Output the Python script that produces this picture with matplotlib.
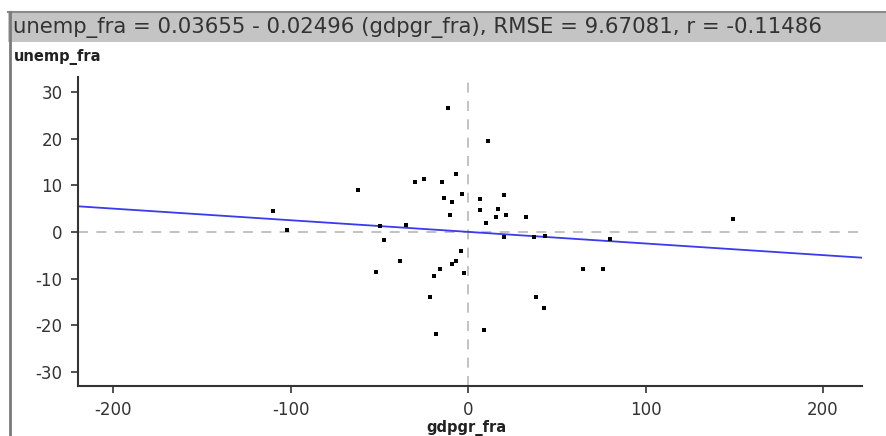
import matplotlib
matplotlib.use('Agg')
import matplotlib.pyplot as plt
from matplotlib.patches import Rectangle
from matplotlib.lines import Line2D

# data ------------------------------------------------------------------------
gdpgr_fra = [-11.3, 11.3, -6.8, -30, -25, -14.7, -62, -3.4, -13.6, -9,
             6.8, 20.4, 6.8, 17, 15.8, 21.5, 32.8, -10.2, -110, -102,
             -50, -35, 10.2, -47.5, 20.4, 37, 43.5, -3.8, -38.5, -52,
             -15.8, -19.2, -9, -6.8, -2.3, -21.5, 38, 43, -18, 9,
             64.6, 76, 80, 149.5]
unemp_fra = [26.7, 19.6, 12.5, 10.8, 11.4, 10.8, 9.0, 8.2, 7.3, 6.5,
             7.1, 8.0, 4.7, 5.0, 3.2, 3.7, 3.2, 3.7, 4.5, 0.4,
             1.3, 1.5, 1.9, -1.7, -1.1, -1.1, -0.8, -4.1, -6.3, -8.6,
             -8.0, -9.5, -6.9, -6.2, -8.8, -14.0, -14.0, -16.3, -21.9, -21.1,
             -8.0, -8.0, -1.4, 2.9]
intercept = 0.03655
slope = -0.02496
title = "unemp_fra = 0.03655 - 0.02496 (gdpgr_fra), RMSE = 9.67081, r = -0.11486"
x_ticks = [-200, -100, 0, 100, 200]
y_ticks = [-30, -20, -10, 0, 10, 20, 30]
xlim = (-220, 222)
ylim = (-33, 33.3)
#------------------------------------------------------------------------------

plt.rcParams['font.family'] = ['DejaVu Sans']
plt.rcParams['axes.unicode_minus'] = False

fig = plt.figure(figsize=(8.86, 4.36), dpi=100)
fig.patch.set_facecolor('white')

# title bar
fig.patches.append(Rectangle((8/886, 1-42/436), 1-8/886, 30/436, transform=fig.transFigure,
                             facecolor='#c4c4c4', edgecolor='none', zorder=0))
fig.lines.append(Line2D([8/886, 1], [1-12/436, 1-12/436], transform=fig.transFigure,
                        color='#8a8a8a', lw=1.5))
fig.lines.append(Line2D([10/886, 10/886], [0, 1-12/436], transform=fig.transFigure,
                        color='#7a7a7a', lw=2))
fig.text(13/886, 1-27.5/436, title, fontsize=15.3, va='center', ha='left', color='#333333')

ax = fig.add_axes([78/886, 1-385.7/436, (862-78)/886, (385.7-77)/436])
ax.set_xlim(*xlim)
ax.set_ylim(*ylim)

ax.axhline(0, color='#b8b8b8', lw=1.2, ls=(0, (6, 5)), zorder=1)
ax.axvline(0, color='#b8b8b8', lw=1.2, ls=(0, (6, 5)), zorder=1)

lx = list(xlim)
ly = [intercept + slope * v for v in lx]
ax.plot(lx, ly, color='#3a3aee', lw=1.3, zorder=2)

ax.scatter(gdpgr_fra, unemp_fra, marker='s', s=10, color='black', lw=0, zorder=3)

for side in ['top', 'right']:
    ax.spines[side].set_visible(False)
for side in ['left', 'bottom']:
    ax.spines[side].set_color('#333333')
    ax.spines[side].set_linewidth(1.5)

ax.set_xticks(x_ticks)
ax.set_yticks(y_ticks)
ax.tick_params(direction='out', length=5, width=1.2, color='#333333',
               labelsize=12, labelcolor='#333333', pad=6)

fig.text(14/886, 1-57/436, 'unemp_fra', fontsize=10.5, fontweight='bold',
         va='center', ha='left', color='#222222')
fig.text(466/886, 1-428/436, 'gdpgr_fra', fontsize=10.5, fontweight='bold',
         va='center', ha='center', color='#222222')

plt.savefig('out.png', dpi=100)
